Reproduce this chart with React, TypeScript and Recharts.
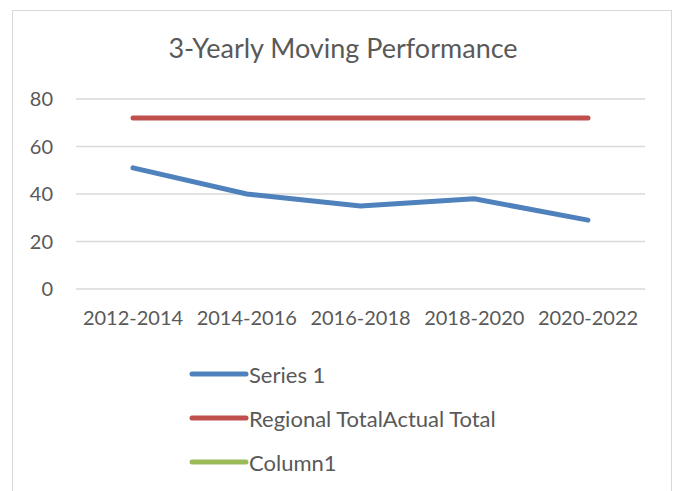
import React from 'react';
import { LineChart, Line, XAxis, YAxis, CartesianGrid, Legend } from 'recharts';

const periods = ['2012-2014', '2014-2016', '2016-2018', '2018-2020', '2020-2022'];
const series1 = [51, 40, 35, 38, 29];
const regionalTotal = [72, 72, 72, 72, 72];
const column1: (number | null)[] = [null, null, null, null, null];
const yTicks = [0, 20, 40, 60, 80];
const legendOrder = ['Series 1', 'Regional TotalActual Total', 'Column1'];

const FONT = 'Lato, "Open Sans", sans-serif';
const TEXT = '#595959';

const data = periods.map((p, i) => ({
  period: p,
  series1: series1[i],
  regional: regionalTotal[i],
  column1: column1[i],
}));

const renderLegend = (props: any) => {
  const items = [...(props.payload || [])].sort(
    (a: any, b: any) => legendOrder.indexOf(a.value) - legendOrder.indexOf(b.value)
  );
  return (
    <div style={{ fontFamily: FONT }}>
      {items.map((it: any) => (
        <div key={it.value} style={{ display: 'flex', alignItems: 'center', height: 44 }}>
          <svg width={60} height={10}>
            <line x1={3} y1={5} x2={57} y2={5} stroke={it.color} strokeWidth={5} strokeLinecap="round" />
          </svg>
          <span style={{ fontSize: 22, color: TEXT }}>{it.value}</span>
        </div>
      ))}
    </div>
  );
};

const App: React.FC = () => {
  return (
    <div style={{ position: 'absolute', left: 0, top: 0, width: 675, height: 491, background: '#fff', overflow: 'hidden' }}>
      <div style={{ position: 'absolute', left: 12, top: 10, width: 660, height: 500, border: '1.5px solid #D9D9D9', boxSizing: 'border-box' }} />
      <div style={{ position: 'absolute', left: 0, top: 31, width: 686, textAlign: 'center', fontFamily: FONT, fontSize: 27, color: TEXT }}>
        3-Yearly Moving Performance
      </div>
      <LineChart width={675} height={491} data={data} margin={{ top: 99, right: 30, bottom: 162, left: 0 }}>
        <CartesianGrid vertical={false} stroke="#D9D9D9" strokeWidth={1.5} />
        <XAxis
          dataKey="period"
          height={40}
          padding={{ left: 57, right: 57 }}
          axisLine={false}
          tickLine={false}
          tickSize={0}
          tickMargin={22}
          interval={0}
          tick={{ fill: TEXT, fontSize: 20, fontFamily: FONT }}
        />
        <YAxis
          width={76}
          domain={[0, 80]}
          ticks={yTicks}
          axisLine={false}
          tickLine={false}
          tickSize={0}
          tickMargin={23}
          tick={{ fill: TEXT, fontSize: 20, fontFamily: FONT }}
        />
        <Legend
          layout="vertical"
          align="center"
          verticalAlign="middle"
          content={renderLegend}
          wrapperStyle={{ position: 'absolute', left: 189, top: 352, width: 420 }}
        />
        <Line name="Series 1" dataKey="series1" stroke="#4F81BD" strokeWidth={5} strokeLinecap="round" dot={false} isAnimationActive={false} />
        <Line name="Regional TotalActual Total" dataKey="regional" stroke="#C0504D" strokeWidth={5} strokeLinecap="round" dot={false} isAnimationActive={false} />
        <Line name="Column1" dataKey="column1" stroke="#9BBB59" strokeWidth={5} strokeLinecap="round" dot={false} isAnimationActive={false} />
      </LineChart>
    </div>
  );
};

export default App;
